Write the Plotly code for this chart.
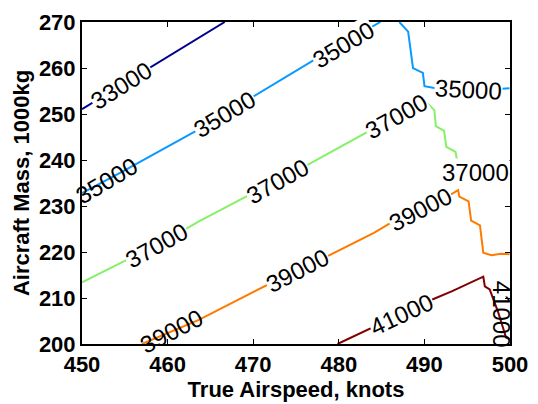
import plotly.graph_objects as go

# ---- data ----
levels = [33000, 35000, 37000, 39000, 41000]
colors = ["#00008F", "#0A99FF", "#86F068", "#FF7A00", "#800000"]

x_33000 = [450.0, 463.5, 466.67]
y_33000 = [251.05, 266.51, 270.0]

x_35000_a = [450.0, 454.5, 463.65, 469.6, 477.61, 484.86]
y_35000_a = [232.8, 237.26, 246.66, 253.28, 262.33, 270.0]
x_35000_b = [487.07, 488.1, 488.67, 489.82, 490.01, 491.3, 498.17, 499.95]
y_35000_b = [270.0, 267.9, 259.97, 258.93, 256.06, 255.58, 255.37, 255.58]

x_37000 = [450.0, 460.61, 463.5, 471.28, 476.09, 485.24, 490.01, 491.16, 491.34,
           492.3, 492.56, 493.63, 493.94, 494.2, 499.17, 499.95]
y_37000 = [213.38, 223.34, 226.48, 234.13, 238.66, 248.06, 252.93, 250.84, 247.37,
           246.33, 242.84, 241.79, 238.66, 237.3, 237.13, 236.92]

x_39000 = [457.0, 463.65, 472.43, 478.0, 484.1, 487.15, 492.68, 493.94, 494.08,
           495.16, 495.46, 496.49, 496.88, 497.83, 498.97, 499.95]
y_39000 = [200.0, 205.23, 213.59, 218.45, 224.18, 227.52, 232.04, 233.44, 232.04,
           231.0, 226.81, 225.77, 219.85, 219.29, 219.64, 219.5]

x_41000 = [479.85, 490.58, 493.25, 496.88, 497.06, 497.63, 498.6, 499.54, 499.95]
y_41000 = [200.0, 209.41, 211.5, 214.63, 212.54, 211.85, 207.0, 201.4, 201.05]

# contour label positions (x, y), level index, angle
label_x = [454.6, 452.9, 466.6, 480.6, 495.1, 458.7, 472.8, 486.7, 496.0,
           460.4, 475.2, 489.5, 487.3, 499.1]
label_y = [256.2, 235.6, 250.0, 265.1, 255.4, 221.5, 235.4, 249.5, 237.2,
           202.8, 216.0, 229.3, 206.5, 206.5]
label_lvl = [0, 1, 1, 1, 1, 2, 2, 2, 2, 3, 3, 3, 4, 4]
label_ang = [-32, -30.5, -31, -31, 3, -29, -29, -29, 0, -27.5, -27.5, -27.5, -25, 90]
label_at_edge = [False, True, False, False, False, False, False, False, False,
                 True, False, False, False, True]

x_ticks = [450, 460, 470, 480, 490, 500]
y_ticks = [200, 210, 220, 230, 240, 250, 260, 270]

# ---- figure ----
fig = go.Figure()
series = [
    (x_33000, y_33000),
    (x_35000_a + [None] + x_35000_b, y_35000_a + [None] + y_35000_b),
    (x_37000, y_37000),
    (x_39000, y_39000),
    (x_41000, y_41000),
]
for (xs, ys), c, lv in zip(series, colors, levels):
    fig.add_trace(go.Scatter(x=xs, y=ys, mode="lines", name=str(lv),
                             line=dict(color=c, width=2), connectgaps=False,
                             hoverinfo="skip"))

for lx, ly, li, la, edge in zip(label_x, label_y, label_lvl, label_ang, label_at_edge):
    fig.add_annotation(x=lx, y=ly, xref="x", yref="y", text=str(levels[li]),
                       showarrow=False, textangle=la,
                       bgcolor="rgba(0,0,0,0)" if edge else "white",
                       borderpad=0,
                       font=dict(family="Liberation Sans, Arial", size=24, color="black"))

font = "Liberation Sans, Arial"
axis_common = dict(showgrid=False, zeroline=False, showline=True, linecolor="black",
                   linewidth=2, mirror="ticks", ticks="inside", ticklen=5,
                   tickwidth=1, tickcolor="black", ticklabeloverflow="allow",
                   tickfont=dict(family=font, size=22, color="black", weight="bold"))
fig.update_xaxes(range=[450, 500], tickvals=x_ticks, ticktext=[str(v) for v in x_ticks],
                 title=dict(text="True Airspeed, knots", standoff=1,
                            font=dict(family=font, size=22, color="black", weight="bold")),
                 **axis_common)
fig.update_yaxes(range=[200, 270], tickvals=y_ticks, ticktext=[str(v) for v in y_ticks],
                 title=dict(text="Aircraft Mass, 1000kg", standoff=3,
                            font=dict(family=font, size=22, color="black", weight="bold")),
                 **axis_common)
fig.update_layout(width=538, height=404, margin=dict(l=82, r=19, t=10, b=59),
                  plot_bgcolor="white", paper_bgcolor="white", showlegend=False)
fig.write_html("out.html")
